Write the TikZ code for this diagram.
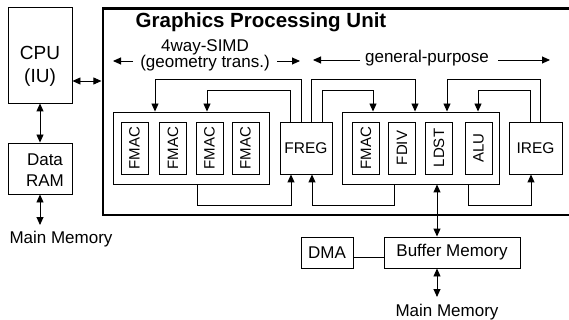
\documentclass[tikz,border=0pt]{standalone}
\usepackage{fontspec}
\setmainfont{Liberation Sans}
\usetikzlibrary{arrows.meta,calc}
\begin{document}
\begin{tikzpicture}[x=1pt,y=-1pt,
  box/.style={draw,line width=0.9pt,inner sep=0pt},
  unit/.style={box,minimum width=27pt,minimum height=52pt},
  lbl/.style={font=\fontsize{17}{21}\selectfont,inner sep=0pt},
  ulbl/.style={font=\fontsize{15}{18}\selectfont,inner sep=0pt,rotate=90},
  reg/.style={box,minimum height=52pt,font=\fontsize{15.5}{18}\selectfont},
  link/.style={line width=0.9pt},
  arr/.style={link,-{Triangle[length=8pt,width=7pt]}},
  darr/.style={link,{Triangle[length=8pt,width=7pt]}-{Triangle[length=8pt,width=7pt]}},
]
\useasboundingbox (0,0) rectangle (569,320);

% host side
\node[box,minimum width=64pt,minimum height=96pt] (cpu) at (40,55) {};
\node[lbl,font=\fontsize{19}{23}\selectfont,align=center] (cputxt) at (40,66) {CPU\\(IU)};
\node[box,minimum width=64pt,minimum height=51pt] (ram) at (40,168.5) {};
\node[lbl,align=center] (ramtxt) at (45,170) {Data\\RAM};
\node[lbl,anchor=base] (mm1) at (61,243) {Main Memory};
\coordinate (mm1top) at (40,225);

% GPU frame (runs off the right edge)
\draw[line width=2.8pt] (575,8.5) -- (103,8.5) -- (103,215) -- (575,215);
\coordinate (gpuport) at (101.4,81);
\node[font=\bfseries\fontsize{20.5}{24}\selectfont,inner sep=0pt,anchor=base] (title) at (261,28) {Graphics Processing Unit};

% section headings
\node[lbl,font=\fontsize{17}{16.5}\selectfont,align=center,anchor=base] (simd) at (205,68) {4way-SIMD\\(geometry trans.)};
\node[lbl,anchor=base] (gp) at (427,62.5) {general-purpose};
\coordinate (h1a) at (133,61); \coordinate (h1b) at (113,61);
\coordinate (h2a) at (277,61); \coordinate (h2b) at (300,61);
\coordinate (h3a) at (360,60); \coordinate (h3b) at (313,60);
\coordinate (h4a) at (498,60); \coordinate (h4b) at (550,60);
\draw[arr] (h1a) -- (h1b);
\draw[arr] (h2a) -- (h2b);
\draw[arr] (h3a) -- (h3b);
\draw[arr] (h4a) -- (h4b);

% SIMD group
\node[box,minimum width=156pt,minimum height=72pt] (lg) at (191,148) {};
\node[unit,label={[ulbl]center:FMAC}] (s1) at (134.5,148) {};
\node[unit,label={[ulbl]center:FMAC}] (s2) at (173,148) {};
\node[unit,label={[ulbl]center:FMAC}] (s3) at (209.5,148) {};
\node[unit,label={[ulbl]center:FMAC}] (s4) at (245.5,148) {};

% register files
\node[reg,minimum width=52pt] (freg) at (306,148) {FREG};
\node[reg,minimum width=53pt] (ireg) at (535.5,148) {IREG};

% general-purpose group
\node[box,minimum width=157pt,minimum height=72pt] (rg) at (420.5,148) {};
\node[unit,label={[ulbl]center:FMAC}] (g1) at (366,148) {};
\node[unit,label={[ulbl]center:FDIV}] (g2) at (402,148) {};
\node[unit,label={[ulbl]center:LDST}] (g3) at (439,148) {};
\node[unit,label={[ulbl]center:ALU}] (g4) at (478.5,148) {};

% memory side
\node[box,minimum width=136pt,minimum height=31pt,font=\fontsize{17}{20}\selectfont] (buf) at (452,252.5) {Buffer Memory};
\node[box,minimum width=52pt,minimum height=31pt,font=\fontsize{17}{20}\selectfont] (dma) at (327,252.5) {DMA};
\node[lbl,anchor=base] (mm2) at (447,316) {Main Memory};
\coordinate (mm2top) at (437,297);

% operand paths from the register files
\draw[arr] ([xshift=-5pt]freg.north) -- ++(0,-42) -| ([xshift=-36pt]lg.north);
\draw[arr] ([xshift=-16pt]freg.north) -- ++(0,-31) -| ([xshift=16pt]lg.north);
\draw[arr] ([xshift=5pt]freg.north) -- ++(0,-42) -| ([xshift=-5.5pt]rg.north);
\draw[arr] ([xshift=16pt]freg.north) -- ++(0,-31) -| ([xshift=-47.5pt]rg.north);
\draw[arr] ([xshift=4.5pt]ireg.north) -- ++(0,-42) -| ([xshift=26.5pt]rg.north);
\draw[arr] ([xshift=-5.5pt]ireg.north) -- ++(0,-31) -| ([xshift=57.5pt]rg.north);

% result paths back to the register files
\draw[arr] ([xshift=6pt]lg.south) -- ++(0,21) -| ([xshift=-15pt]freg.south);
\draw[arr] ([xshift=-26.5pt]rg.south) -- ++(0,21) -| ([xshift=6pt]freg.south);
\draw[arr] ([xshift=47.5pt]rg.south) -- ++(0,21) -| ([xshift=-4.5pt]ireg.south);

% memory connections
\draw[darr] ([xshift=16.5pt]rg.south) -- ([xshift=-15pt]buf.north);
\draw[darr] ([xshift=-15pt]buf.south) -- (mm2top);
\draw[link] ([yshift=-4.5pt]dma.east) -- ([yshift=-4.5pt]dma.east -| buf.west);
\draw[darr] ([yshift=-26pt]cpu.east) -- (gpuport);
\draw[darr] (cpu.south) -- (ram.north);
\draw[darr] (ram.south) -- (mm1top);
\end{tikzpicture}
\end{document}
